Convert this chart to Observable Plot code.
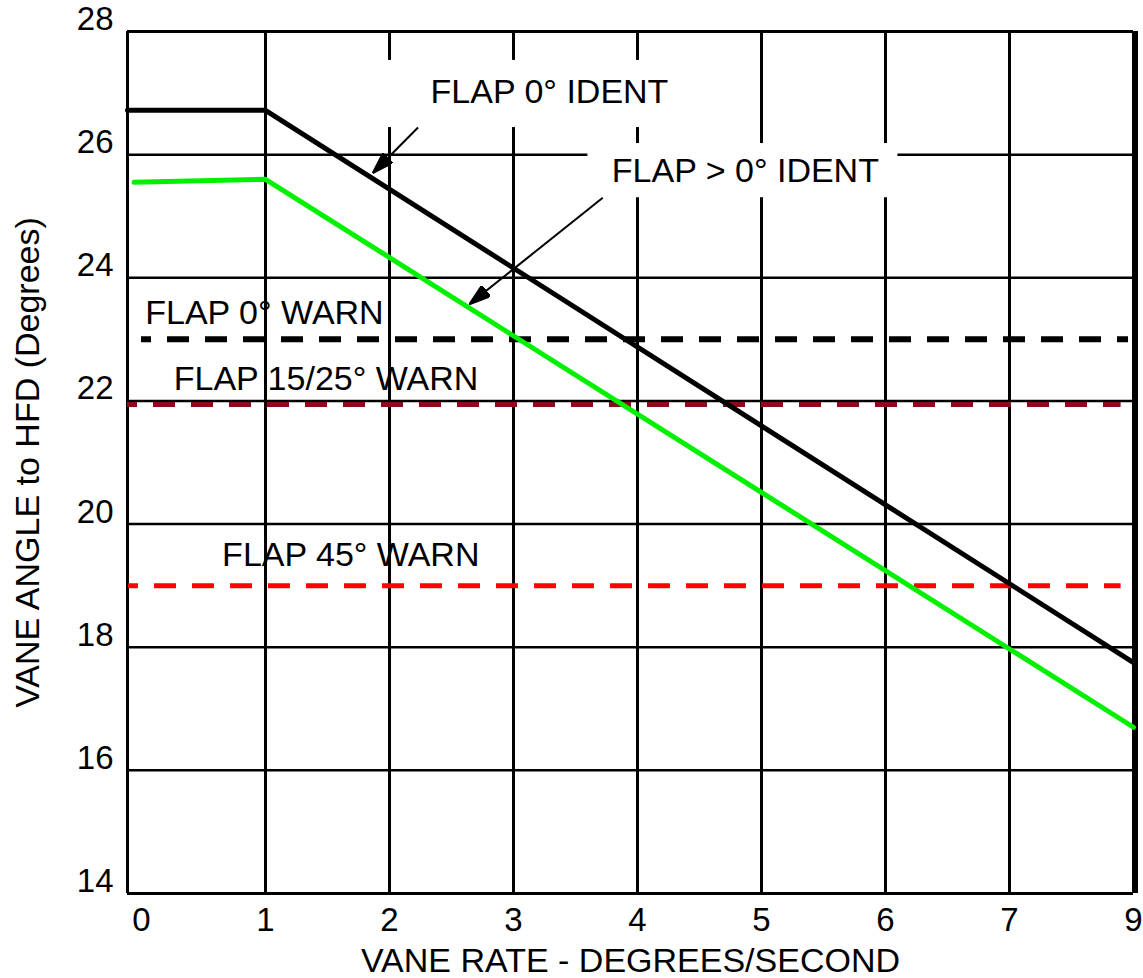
<!DOCTYPE html>
<html><head><meta charset="utf-8">
<script src="https://cdn.jsdelivr.net/npm/d3@7"></script>
<script src="https://cdn.jsdelivr.net/npm/@observablehq/plot@0.6"></script>
<style>body{margin:0;background:#fff} #chart svg{display:block}</style>
</head><body><div id="chart"></div>
<script>
// ---- axes ----
const xTicks = [0, 1, 2, 3, 4, 5, 6, 7, 8];
const xTickLabels = ["0", "1", "2", "3", "4", "5", "6", "7", "9"];
const xGrid = [1, 2, 3, 4, 5, 6, 7, 8];
const yTicks = [14, 16, 18, 20, 22, 24, 26, 28];
const yGrid = [16, 18, 20, 22, 24, 26];
const xDomain = [-0.113, 8];
const yDomain = [14, 28];
const xTitle = "VANE RATE - DEGREES/SECOND";
const yTitle = "VANE ANGLE to HFD (Degrees)";

// ---- ident curves ----
const flap0Rate = [-0.113, 1, 8];
const flap0Angle = [26.72, 26.72, 17.75];
const flapGt0Rate = [-0.06, 1, 8];
const flapGt0Angle = [25.55, 25.6, 16.7];

// ---- warn thresholds ----
const warnNames = ["FLAP 0° WARN", "FLAP 15/25° WARN", "FLAP 45° WARN"];
const warnValues = [23.0, 21.94, 19.0];
const warnFrom = [0.0, -0.113, -0.105];
const warnTo = [7.96, 7.9, 7.9];
const warnColors = ["#000000", "#8b0a1e", "#ff0000"];
const warnWidths = [6, 5, 5];
const warnLabelX = [0.03, 0.26, 0.65];
const warnLabelY = [23.42, 22.36, 19.49];

// ---- ident annotations ----
const identNames = ["FLAP 0° IDENT", "FLAP > 0° IDENT"];
const identLabelX = [3.29, 4.87];
const identLabelY = [27.01, 25.74];
const identBoxX1 = [1.887, 3.6];
const identBoxX2 = [4.55, 6.1];
const identBoxY1 = [26.44, 25.3];
const identBoxY2 = [27.53, 26.18];
const arrowFromX = [2.23, 3.72];
const arrowFromY = [26.44, 25.3];
const arrowToX = [1.87, 2.65];
const arrowToY = [25.71, 23.58];

// ---- build tables ----
const flap0 = flap0Rate.map((x, i) => ({x, y: flap0Angle[i]}));
const flapGt0 = flapGt0Rate.map((x, i) => ({x, y: flapGt0Angle[i]}));
const warns = warnNames.map((name, i) => ({name, y: warnValues[i], x1: warnFrom[i], x2: warnTo[i],
  color: warnColors[i], w: warnWidths[i], lx: warnLabelX[i], ly: warnLabelY[i]}));
const idents = identNames.map((name, i) => ({name, lx: identLabelX[i], ly: identLabelY[i],
  bx1: identBoxX1[i], bx2: identBoxX2[i], by1: identBoxY1[i], by2: identBoxY2[i],
  ax1: arrowFromX[i], ay1: arrowFromY[i], ax2: arrowToX[i], ay2: arrowToY[i]}));

function filledArrow(color, context) {
  const ns = "http://www.w3.org/2000/svg";
  const doc = (context && context.document) || document;
  const m = doc.createElementNS(ns, "marker");
  m.setAttribute("viewBox", "0 -7 22 14");
  m.setAttribute("refX", "21");
  m.setAttribute("refY", "0");
  m.setAttribute("markerWidth", "22");
  m.setAttribute("markerHeight", "14");
  m.setAttribute("markerUnits", "userSpaceOnUse");
  m.setAttribute("orient", "auto");
  const p = doc.createElementNS(ns, "path");
  p.setAttribute("d", "M0,-7L22,0L0,7Z");
  p.setAttribute("fill", color);
  m.appendChild(p);
  return m;
}

const font = "'Liberation Sans', Arial, Helvetica, sans-serif";

const chart = Plot.plot({
  width: 1143,
  height: 978,
  marginLeft: 127,
  marginRight: 10,
  marginTop: 31,
  marginBottom: 85,
  style: {fontFamily: font, background: "#fff", color: "#000"},
  x: {domain: xDomain},
  y: {domain: yDomain},
  marks: [
    // grid
    Plot.ruleX(xGrid, {y1: yDomain[0], y2: yDomain[1], stroke: "#000", strokeWidth: 3}),
    Plot.ruleY(yGrid, {x1: xDomain[0], x2: xDomain[1], stroke: "#000", strokeWidth: 2.5}),
    // frame
    Plot.ruleY([yDomain[0], yDomain[1]], {x1: xDomain[0], x2: xDomain[1], stroke: "#000", strokeWidth: 3}),
    Plot.ruleX([xDomain[0]], {y1: yDomain[0], y2: yDomain[1], stroke: "#000", strokeWidth: 3}),
    Plot.ruleX([xDomain[1]], {y1: yDomain[0], y2: yDomain[1], dx: 3, stroke: "#000", strokeWidth: 3}),
    // white boxes behind ident labels
    Plot.rect(idents, {x1: "bx1", x2: "bx2", y1: "by1", y2: "by2", fill: "#fff"}),
    // warn thresholds
    Plot.ruleY(warns, {y: "y", x1: "x1", x2: "x2", stroke: "color", strokeWidth: "w",
      strokeDasharray: "22,16", strokeDashoffset: 12}),
    // ident curves
    Plot.line(flapGt0, {x: "x", y: "y", stroke: "#00f000", strokeWidth: 5, strokeLinejoin: "miter"}),
    Plot.line(flap0, {x: "x", y: "y", stroke: "#000", strokeWidth: 5, strokeLinejoin: "miter"}),
    // labels
    Plot.text(warns, {x: "lx", y: "ly", text: "name", textAnchor: "start", fontSize: 34, fill: "#000"}),
    Plot.text(idents, {x: "lx", y: "ly", text: "name", fontSize: 34, fill: "#000"}),
    Plot.link(idents, {x1: "ax1", y1: "ay1", x2: "ax2", y2: "ay2", stroke: "#000", strokeWidth: 2,
      markerEnd: filledArrow}),
    // axes
    Plot.axisX(xTicks, {tickSize: 0, tickPadding: 14, fontSize: 33, label: null,
      tickFormat: (d) => xTickLabels[xTicks.indexOf(d)]}),
    Plot.axisY(yTicks, {tickSize: 0, tickPadding: 14, fontSize: 33, label: null, dy: -12, tickFormat: "d"}),
    Plot.text([xTitle], {frameAnchor: "bottom", text: (d) => d, dy: 68, lineAnchor: "middle",
      textAnchor: "middle", fontSize: 34, fill: "#000"}),
    Plot.text([yTitle], {frameAnchor: "left", text: (d) => d, dx: -99, rotate: -90,
      textAnchor: "middle", lineAnchor: "middle", fontSize: 34, fill: "#000"})
  ]
});
document.getElementById("chart").appendChild(chart);
</script>
</body></html>
